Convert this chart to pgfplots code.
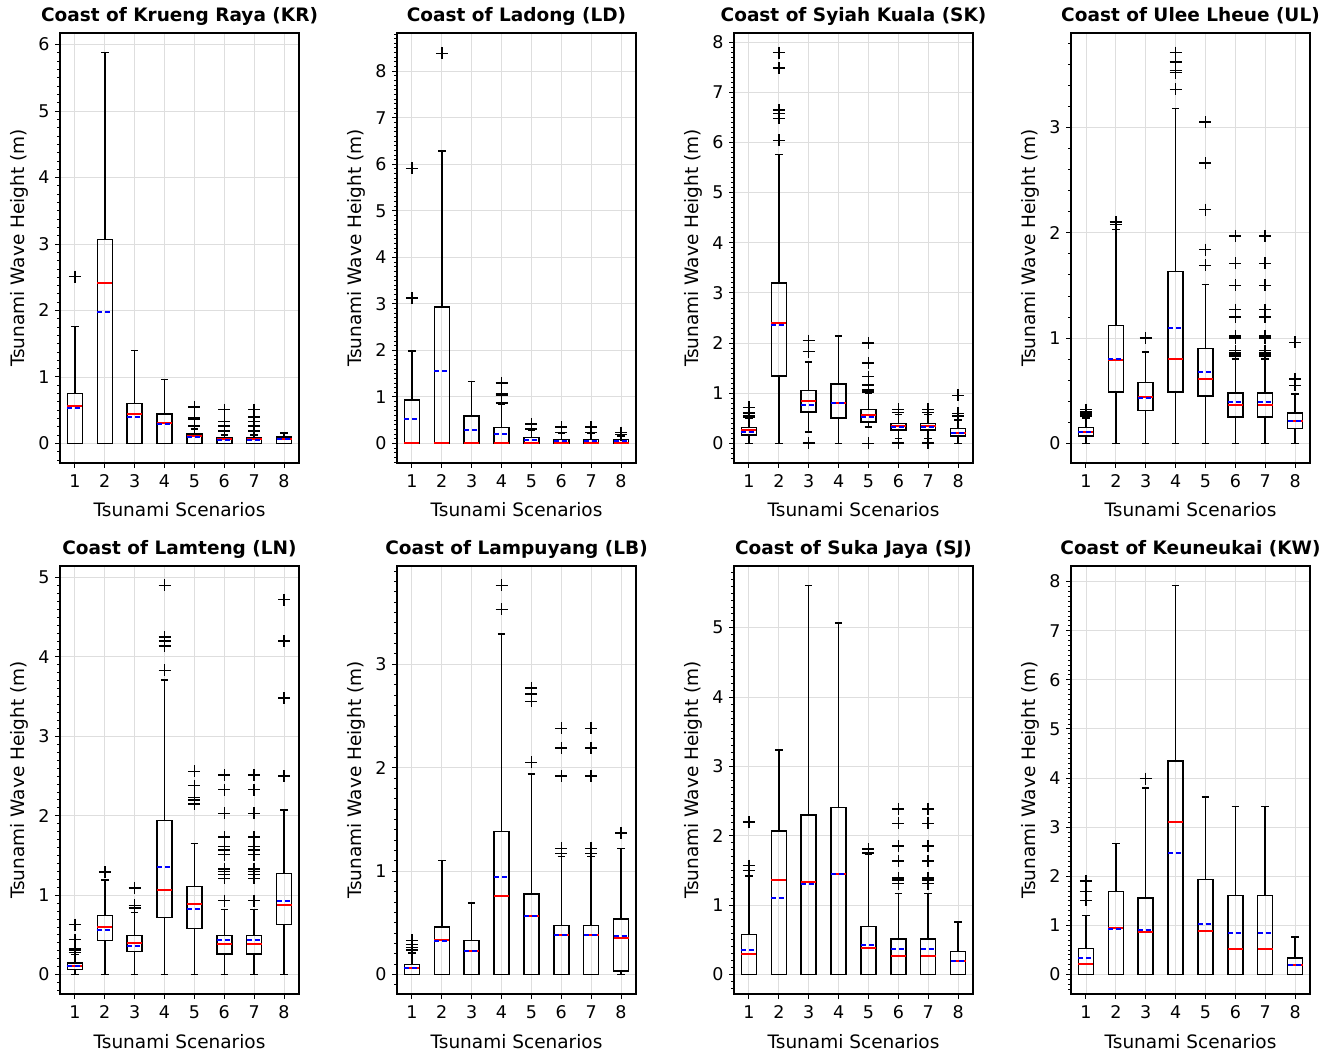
\documentclass[border=0pt]{standalone}
\usepackage{fontspec}
\setmainfont{DejaVu Sans}
\usepackage{pgfplots}
\pgfplotsset{compat=1.18}
\usepgfplotslibrary{statistics}

\pgfplotsset{
  bxp/.style={black, line width=1.5bp, solid, mark=+, mark size=6bp,
    mark options={black, line width=1.5bp, solid}},
  boxplot/draw direction=y,
  boxplot/box extend=0.5,
  boxplot/whisker extend=0.25,
  boxplot/every median/.style={red, line width=2bp, solid},
  boxplot/draw/average/.code={%
    \draw[blue, line width=2bp, dash pattern=on 5bp off 3bp]
      (boxplot box cs:\pgfplotsboxplotvalue{average},0) --
      (boxplot box cs:\pgfplotsboxplotvalue{average},1);},
  panel/.style={
    scale only axis, width=239bp, height=430bp,
    anchor=south west,
    xmin=0.5, xmax=8.5, xtick={1,...,8}, ytick distance=1,
    tick align=outside, tick pos=left,
    major tick length=5bp, minor tick length=3bp,
    every tick/.style={black, line width=1bp},
    minor tick style={black, line width=0.8bp},
    grid=major, major grid style={black!13, line width=0.9bp},
    axis line style={black, line width=1.1bp},
    /pgf/number format/assume math mode=true,
    tick label style={font=\fontsize{17.5bp}{20bp}\selectfont, black},
    xticklabel style={yshift=-3bp},
    yticklabel style={xshift=-2bp},
    xlabel={Tsunami Scenarios},
    ylabel={Tsunami Wave Height (m)},
    label style={font=\fontsize{18.5bp}{21bp}\selectfont},
    xlabel style={at={([yshift=-54bp]axis description cs:0.5,0)}, anchor=base},
    ylabel style={at={([xshift=-36bp]axis description cs:0,0.5)}, anchor=base, rotate=0},
    title style={at={([yshift=6bp]axis description cs:0.5,1)}, anchor=base,
      font=\fontsize{18.5bp}{21bp}\selectfont\bfseries},
  },
}

% pos, lower whisker, q1, median, q3, upper whisker, mean, outliers
\newcommand\bx[8]{\addplot[bxp, boxplot prepared={draw position=#1,
  lower whisker=#2, lower quartile=#3, median=#4, upper quartile=#5,
  upper whisker=#6, average=#7}] coordinates {#8};}

\begin{document}
\begin{tikzpicture}
\useasboundingbox (0bp,0bp) rectangle (1338bp,1054bp);

% ---------------- Row 1 ----------------
\begin{axis}[panel, at={(60bp,591bp)}, height=430bp,
  ymin=-0.294, ymax=6.174, minor y tick num=7,
  title={Coast of Krueng Raya (KR)}]
\bx{1}{0}{0}{0.56}{0.75}{1.76}{0.53}{(0,2.51)}
\bx{2}{0}{0}{2.41}{3.07}{5.88}{1.98}{}
\bx{3}{0}{0}{0.44}{0.60}{1.40}{0.40}{}
\bx{4}{0}{0}{0.31}{0.44}{0.96}{0.29}{}
\bx{5}{0}{0}{0.11}{0.14}{0.22}{0.10}{(0,0.26) (0,0.37) (0,0.38) (0,0.39) (0,0.55)}
\bx{6}{0}{0}{0.06}{0.085}{0.13}{0.05}{(0,0.19) (0,0.26) (0,0.33) (0,0.51)}
\bx{7}{0}{0}{0.06}{0.085}{0.13}{0.05}{(0,0.19) (0,0.26) (0,0.33) (0,0.40) (0,0.51)}
\bx{8}{0}{0}{0.07}{0.10}{0.16}{0.06}{}
\end{axis}

\begin{axis}[panel, at={(397bp,591bp)}, height=430bp,
  ymin=-0.42, ymax=8.82, minor y tick num=9,
  title={Coast of Ladong (LD)}]
\bx{1}{0}{0}{0}{0.93}{1.99}{0.52}{(0,3.13) (0,5.91)}
\bx{2}{0}{0}{0}{2.93}{6.28}{1.56}{(0,8.38)}
\bx{3}{0}{0}{0}{0.59}{1.33}{0.29}{}
\bx{4}{0}{0}{0}{0.34}{0.85}{0.20}{(0,0.87) (0,1.03) (0,1.05) (0,1.07) (0,1.30)}
\bx{5}{0}{0}{0}{0.13}{0.29}{0.07}{(0,0.31) (0,0.42)}
\bx{6}{0}{0}{0}{0.09}{0.22}{0.05}{(0,0.24) (0,0.35)}
\bx{7}{0}{0}{0}{0.09}{0.22}{0.05}{(0,0.24) (0,0.35)}
\bx{8}{0}{0}{0}{0.085}{0.16}{0.05}{(0,0.19) (0,0.23)}
\end{axis}

\begin{axis}[panel, at={(734bp,591bp)}, height=430bp,
  ymin=-0.39, ymax=8.18, minor y tick num=9,
  title={Coast of Syiah Kuala (SK)}]
\bx{1}{0}{0.17}{0.27}{0.32}{0.50}{0.23}{(0,0.53) (0,0.56) (0,0.61) (0,0.72)}
\bx{2}{0}{1.34}{2.41}{3.20}{5.76}{2.37}{(0,6.04) (0,6.48) (0,6.58) (0,6.65) (0,7.48) (0,7.79)}
\bx{3}{0.23}{0.63}{0.85}{1.05}{1.62}{0.76}{(0,0) (0,0.01) (0,1.83) (0,2.05)}
\bx{4}{0}{0.51}{0.81}{1.18}{2.14}{0.80}{}
\bx{5}{0.33}{0.43}{0.57}{0.68}{1.00}{0.53}{(0,0) (0,1.01) (0,1.04) (0,1.07) (0,1.16) (0,1.33) (0,1.60) (0,2.00)}
\bx{6}{0.10}{0.27}{0.35}{0.40}{0.58}{0.32}{(0,0) (0,0.01) (0,0.62) (0,0.68)}
\bx{7}{0.10}{0.27}{0.35}{0.40}{0.58}{0.32}{(0,0) (0,0.01) (0,0.62) (0,0.68)}
\bx{8}{0}{0.15}{0.21}{0.30}{0.47}{0.20}{(0,0.55) (0,0.60) (0,0.96)}
\end{axis}

\begin{axis}[panel, at={(1071bp,591bp)}, height=430bp,
  ymin=-0.186, ymax=3.896, minor y tick num=4,
  title={Coast of Ulee Lheue (UL)}]
\bx{1}{0}{0.07}{0.11}{0.15}{0.24}{0.105}{(0,0.26) (0,0.28) (0,0.30) (0,0.32)}
\bx{2}{0}{0.49}{0.79}{1.12}{2.03}{0.80}{(0,2.08) (0,2.10)}
\bx{3}{0}{0.31}{0.44}{0.58}{0.87}{0.43}{(0,1.00)}
\bx{4}{0}{0.49}{0.80}{1.63}{3.18}{1.10}{(0,3.36) (0,3.52) (0,3.54) (0,3.62) (0,3.71)}
\bx{5}{0}{0.45}{0.61}{0.90}{1.51}{0.68}{(0,1.69) (0,1.84) (0,2.22) (0,2.66) (0,3.05)}
\bx{6}{0}{0.25}{0.36}{0.48}{0.80}{0.39}{(0,0.83) (0,0.84) (0,0.86) (0,0.88) (0,1.00) (0,1.01) (0,1.02) (0,1.20) (0,1.27) (0,1.50) (0,1.71) (0,1.97)}
\bx{7}{0}{0.25}{0.36}{0.48}{0.80}{0.39}{(0,0.83) (0,0.84) (0,0.86) (0,0.88) (0,1.00) (0,1.01) (0,1.02) (0,1.20) (0,1.27) (0,1.50) (0,1.71) (0,1.97)}
\bx{8}{0}{0.14}{0.215}{0.29}{0.47}{0.215}{(0,0.55) (0,0.61) (0,0.96)}
\end{axis}

% ---------------- Row 2 ----------------
\begin{axis}[panel, at={(60bp,60bp)}, height=428bp,
  ymin=-0.245, ymax=5.145, minor y tick num=9,
  title={Coast of Lamteng (LN)}]
\bx{1}{0}{0.063}{0.105}{0.146}{0.25}{0.11}{(0,0.28) (0,0.30) (0,0.32) (0,0.33) (0,0.44) (0,0.63)}
\bx{2}{0}{0.43}{0.594}{0.745}{1.19}{0.556}{(0,1.29)}
\bx{3}{0}{0.29}{0.40}{0.49}{0.78}{0.36}{(0,0.84) (0,0.87) (0,1.09)}
\bx{4}{0}{0.72}{1.06}{1.94}{3.71}{1.35}{(0,3.83) (0,4.14) (0,4.20) (0,4.25) (0,4.90)}
\bx{5}{0}{0.58}{0.89}{1.11}{1.65}{0.82}{(0,2.15) (0,2.20) (0,2.23) (0,2.38) (0,2.56)}
\bx{6}{0}{0.26}{0.385}{0.49}{0.82}{0.43}{(0,0.93) (0,1.21) (0,1.26) (0,1.30) (0,1.33) (0,1.51) (0,1.57) (0,1.61) (0,1.73) (0,2.03) (0,2.33) (0,2.51)}
\bx{7}{0}{0.26}{0.385}{0.49}{0.82}{0.43}{(0,0.93) (0,1.21) (0,1.26) (0,1.30) (0,1.33) (0,1.51) (0,1.57) (0,1.61) (0,1.73) (0,2.03) (0,2.33) (0,2.51)}
\bx{8}{0}{0.63}{0.87}{1.27}{2.07}{0.93}{(0,2.50) (0,3.48) (0,4.20) (0,4.72)}
\end{axis}

\begin{axis}[panel, at={(397bp,60bp)}, height=428bp,
  ymin=-0.188, ymax=3.948, minor y tick num=9,
  title={Coast of Lampuyang (LB)}]
\bx{1}{0}{0}{0.064}{0.096}{0.21}{0.066}{(0,0.235) (0,0.26) (0,0.29) (0,0.33)}
\bx{2}{0}{0}{0.33}{0.46}{1.10}{0.32}{}
\bx{3}{0}{0}{0.225}{0.33}{0.69}{0.225}{}
\bx{4}{0}{0}{0.76}{1.38}{3.29}{0.94}{(0,3.53) (0,3.76)}
\bx{5}{0}{0}{0.563}{0.78}{1.94}{0.563}{(0,2.05) (0,2.64) (0,2.71) (0,2.77)}
\bx{6}{0}{0}{0.38}{0.476}{1.14}{0.38}{(0,1.17) (0,1.22) (0,1.92) (0,2.19) (0,2.38)}
\bx{7}{0}{0}{0.38}{0.476}{1.14}{0.38}{(0,1.17) (0,1.22) (0,1.92) (0,2.19) (0,2.38)}
\bx{8}{0}{0.032}{0.354}{0.537}{1.22}{0.37}{(0,1.37)}
\end{axis}

\begin{axis}[panel, at={(734bp,60bp)}, height=428bp,
  ymin=-0.28, ymax=5.89, minor y tick num=9,
  title={Coast of Suka Jaya (SJ)}]
\bx{1}{0}{0}{0.30}{0.576}{1.42}{0.36}{(0,1.50) (0,1.57) (0,2.20)}
\bx{2}{0}{0}{1.36}{2.07}{3.24}{1.10}{}
\bx{3}{0}{0}{1.34}{2.30}{5.61}{1.30}{}
\bx{4}{0}{0}{1.45}{2.41}{5.07}{1.45}{}
\bx{5}{0}{0}{0.38}{0.696}{1.73}{0.43}{(0,1.75) (0,1.81)}
\bx{6}{0}{0}{0.27}{0.51}{1.17}{0.37}{(0,1.31) (0,1.36) (0,1.39) (0,1.64) (0,1.85) (0,2.18) (0,2.39)}
\bx{7}{0}{0}{0.27}{0.51}{1.17}{0.37}{(0,1.31) (0,1.36) (0,1.39) (0,1.64) (0,1.85) (0,2.18) (0,2.39)}
\bx{8}{0}{0}{0.20}{0.336}{0.76}{0.19}{}
\end{axis}

\begin{axis}[panel, at={(1071bp,60bp)}, height=428bp,
  ymin=-0.396, ymax=8.316, minor y tick num=9,
  title={Coast of Keuneukai (KW)}]
\bx{1}{0}{0}{0.22}{0.53}{1.20}{0.33}{(0,1.51) (0,1.69) (0,1.90)}
\bx{2}{0}{0}{0.95}{1.69}{2.67}{0.93}{}
\bx{3}{0}{0}{0.87}{1.56}{3.80}{0.91}{(0,3.99)}
\bx{4}{0}{0}{3.10}{4.35}{7.92}{2.48}{}
\bx{5}{0}{0}{0.88}{1.93}{3.61}{1.02}{}
\bx{6}{0}{0}{0.52}{1.61}{3.42}{0.85}{}
\bx{7}{0}{0}{0.52}{1.61}{3.42}{0.85}{}
\bx{8}{0}{0}{0.20}{0.34}{0.76}{0.19}{}
\end{axis}
\end{tikzpicture}
\end{document}
